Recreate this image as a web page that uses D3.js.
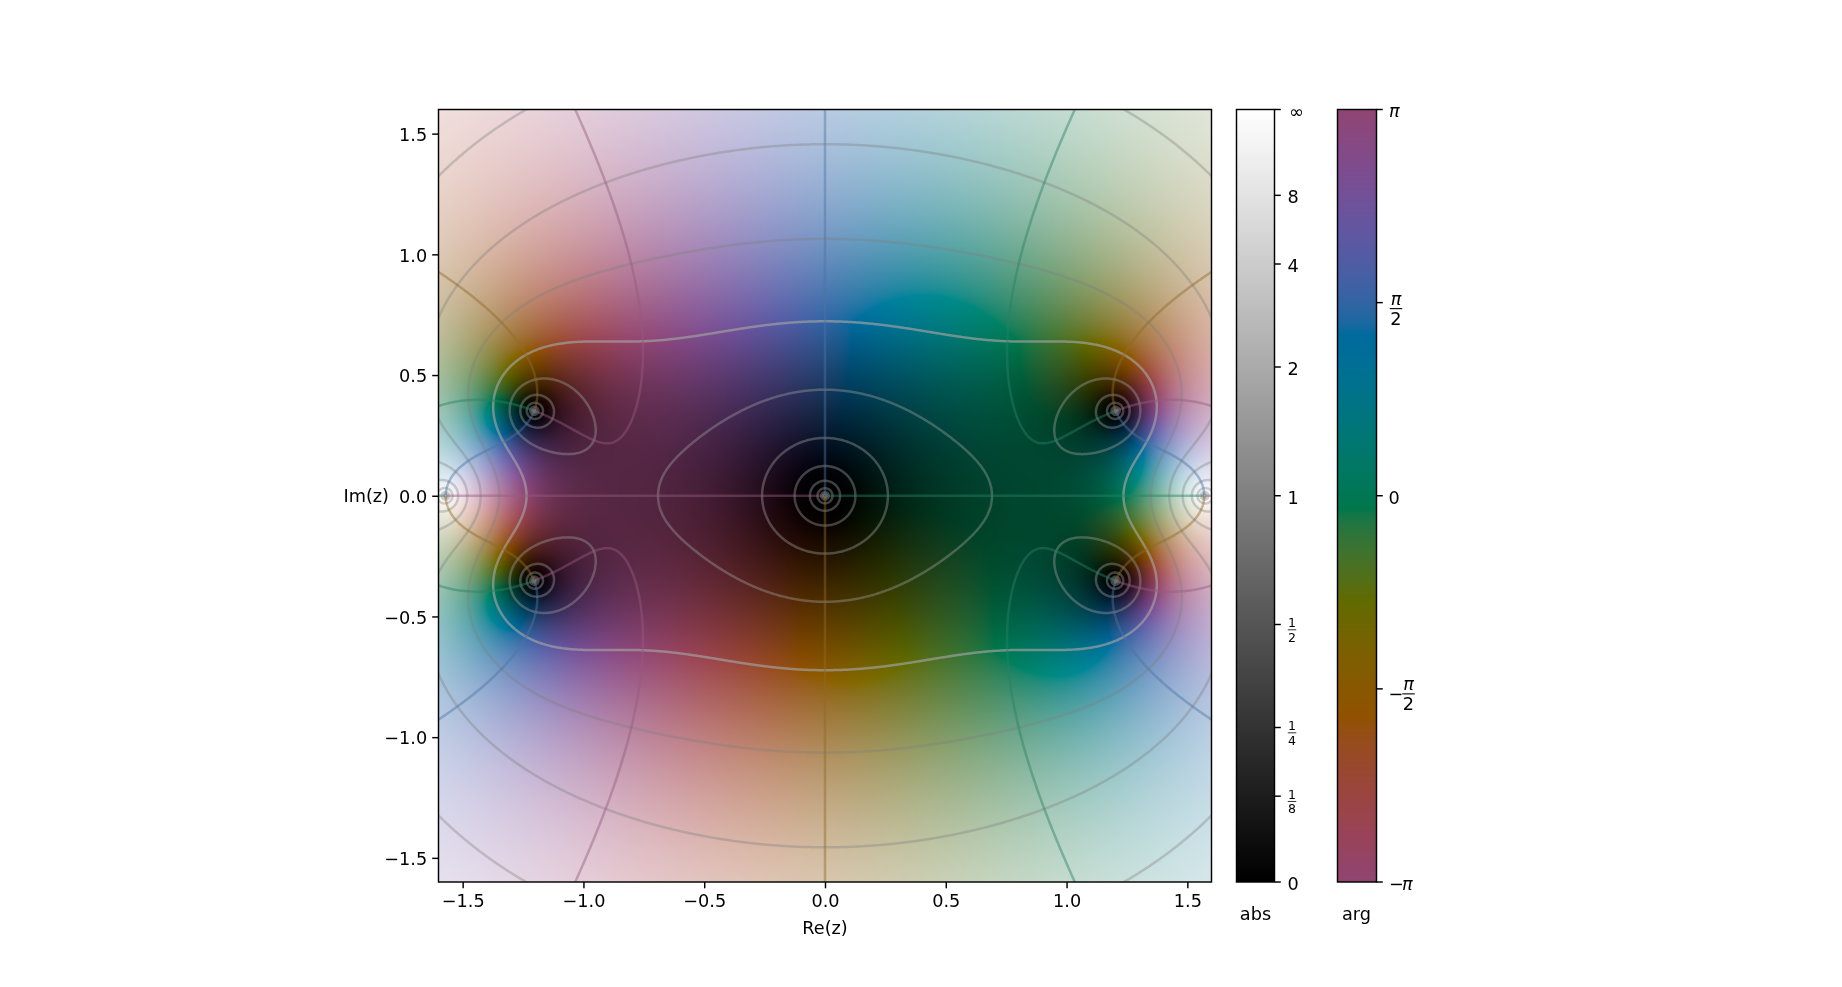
<!DOCTYPE html>
<html><head><meta charset="utf-8">
<script src="https://cdnjs.cloudflare.com/ajax/libs/d3/7.8.5/d3.min.js"></script>
<style>
html,body{margin:0;padding:0;background:#fff;width:1842px;height:987px;overflow:hidden}
#stage{position:relative;width:1842px;height:987px;filter:blur(0.35px)}
canvas,svg{position:absolute;left:0;top:0}
text{font-family:"DejaVu Sans";fill:#000}
</style></head><body><div id="stage"></div>
<script>
// Values: the field is modelled from its visible zeros and poles.
const zeroRe = [0, 1.204, 1.204, -1.204, -1.204];
const zeroIm = [0, 0.352, -0.352, 0.352, -0.352];
const poleRe = [1.57, -1.57];
const poleIm = [0, 0];
const gain = -1;
const absLevels = [-8,-7,-6,-5,-4,-3,-2,-1,0,1,2,3,4,5,6,7,8];
const argLevels = [0, Math.PI/2, Math.PI, -Math.PI/2];
const xTicks = [-1.5,-1,-0.5,0,0.5,1,1.5];
const yTicks = [-1.5,-1,-0.5,0,0.5,1,1.5];
const absTickValues = [0,1/8,1/4,1/2,1,2,4,8];
const absTickLabels = ["0",["1","8"],["1","4"],["1","2"],"1","2","4","8"];

const frame = {l:438.5, r:1211.5, t:109.5, b:882};
const absBar = {l:1236.5, r:1274.5};
const argBar = {l:1337.5, r:1376.5};
const x = d3.scaleLinear().domain([-1.6,1.6]).range([frame.l,frame.r]);
const y = d3.scaleLinear().domain([-1.6,1.6]).range([frame.b,frame.t]);
const absY = d3.scaleLinear().domain([0,1]).range([frame.b,frame.t]);
const argY = d3.scaleLinear().domain([-Math.PI,Math.PI]).range([frame.b,frame.t]);

function f(re,im){
  let a=gain,b=0;
  for(let i=0;i<zeroRe.length;i++){const u=re-zeroRe[i],v=im-zeroIm[i];const t=a*u-b*v;b=a*v+b*u;a=t;}
  for(let i=0;i<poleRe.length;i++){const u=re-poleRe[i],v=im-poleIm[i];const d=u*u+v*v;const t=(a*u+b*v)/d;b=(b*u-a*v)/d;a=t;}
  return [a,b];
}
const H0 = 165*Math.PI/180, C0 = 0.115;
function gam(c){c=Math.max(0,Math.min(1,c));return 255*(c<=0.0031308?12.92*c:1.055*Math.pow(c,1/2.4)-0.055);}
function color(r,theta,chroma=C0){
  const L=r;
  const C=chroma*(1-Math.abs(2*r-1));
  const h=H0+theta;
  const A=C*Math.cos(h),B=C*Math.sin(h);
  const l=L+0.3963377774*A+0.2158037573*B, m=L-0.1055613458*A-0.0638541728*B, s=L-0.0894841775*A-1.2914855480*B;
  const l3=l*l*l,m3=m*m*m,s3=s*s*s;
  return [gam(4.0767416621*l3-3.3077115913*m3+0.2309699292*s3),
          gam(-1.2684380046*l3+2.6097574011*m3-0.3413193965*s3),
          gam(-0.0041960863*l3-0.7034186147*m3+1.7076147010*s3)];
}
const stage=d3.select("#stage");
const canvas=stage.append("canvas").attr("width",1842).attr("height",987).node();
const ctx=canvas.getContext("2d");
const img=ctx.createImageData(1842,987);
function put(px,py,c){const i=4*(py*1842+px);img.data[i]=c[0];img.data[i+1]=c[1];img.data[i+2]=c[2];img.data[i+3]=255;}
for(let i=0;i<img.data.length;i+=4){img.data[i]=img.data[i+1]=img.data[i+2]=img.data[i+3]=255;}
for(let py=Math.floor(frame.t);py<Math.ceil(frame.b);py++){
  const im=y.invert(py+.5);
  for(let px=Math.floor(frame.l);px<Math.ceil(frame.r);px++){
    const [a,b]=f(x.invert(px+.5),im);
    const m=Math.hypot(a,b);
    put(px,py,color(m/(m+1),Math.atan2(b,a)));
  }
  const rr=absY.invert(py+.5);
  const g=[255*rr,255*rr,255*rr];
  for(let px=Math.floor(absBar.l);px<Math.ceil(absBar.r);px++)put(px,py,g);
  const ac=color(.5,argY.invert(py+.5));
  for(let px=Math.floor(argBar.l);px<Math.ceil(argBar.r);px++)put(px,py,ac);
}
ctx.putImageData(img,0,0);

const svg=stage.append("svg").attr("width",1842).attr("height",987);
svg.append("defs").append("clipPath").attr("id","plot").append("rect")
  .attr("x",frame.l).attr("y",frame.t).attr("width",frame.r-frame.l).attr("height",frame.b-frame.t);
// contours
const N=900, ext=1.7, step=2*ext/N;
const logs=new Float64Array(N*N), sinA=new Float64Array(N*N), cosA=new Float64Array(N*N);
for(let j=0;j<N;j++){const im=-ext+(j+.5)*step;for(let i=0;i<N;i++){
  const [a,b]=f(-ext+(i+.5)*step,im);const m=Math.hypot(a,b)||1e-12;
  logs[j*N+i]=Math.max(-14,Math.min(14,Math.log2(m)));sinA[j*N+i]=b/m;cosA[j*N+i]=a/m;}}
const toData=p=>[-ext+p[0]*step,-ext+p[1]*step];
const line=d3.line().x(p=>x(p[0])).y(p=>y(p[1]));
const G=svg.append("g").attr("clip-path","url(#plot)").attr("fill","none").attr("stroke-linejoin","round");
const cont=d3.contours().size([N,N]).smooth(true);
absLevels.forEach(k=>{
  const c=cont.thresholds([k])(logs)[0];
  c.coordinates.forEach(poly=>poly.forEach(ring=>{
    G.append("path").attr("d",line(ring.map(toData)))
      .attr("stroke",k>0?"#808080":"#a0a0a0").attr("stroke-width",2.5).attr("stroke-opacity",k===0?0.68:(k>0?0.36:0.4));
  }));
});
function argPieces(field,pick){
  const c=cont.thresholds([0])(field)[0];
  c.coordinates.forEach(poly=>poly.forEach(ring=>{
    let cur=[],lev=null;
    const flush=()=>{if(cur.length>1){const col=color(.5,lev).map(v=>Math.round(v*.75+160*.25));
      G.append("path").attr("d",line(cur)).attr("stroke",`rgb(${col.join(",")})`)
       .attr("stroke-width",2.5).attr("stroke-opacity",0.45);}cur=[];lev=null;};
    ring.map(toData).forEach(p=>{
      const [a,b]=f(p[0],p[1]);const l=pick(a,b);
      if(l===null){flush();return;}
      if(lev!==null&&l!==lev){flush();}
      lev=l;cur.push(p);
    });
    flush();
  }));
}
argPieces(sinA,(a,b)=>{const m=Math.hypot(a,b);return Math.abs(b/m)>0.35?null:(a>0?argLevels[0]:argLevels[2]);});
argPieces(cosA,(a,b)=>{const m=Math.hypot(a,b);return Math.abs(a/m)>0.35?null:(b>0?argLevels[1]:argLevels[3]);});

// axes
const fs=17.7, tl=6.3, lw=1.45;
const xa=d3.axisBottom(x).tickValues(xTicks).tickFormat(d3.format(".1f")).tickSize(tl).tickPadding(6.5);
const ya=d3.axisLeft(y).tickValues(yTicks).tickFormat(d3.format(".1f")).tickSize(tl).tickPadding(5);
function sty(g){g.selectAll(".domain").remove();g.selectAll("line").attr("stroke","#000").attr("stroke-width",lw);
  g.selectAll("text").attr("font-family","DejaVu Sans").attr("font-size",fs).attr("fill","#000");}
svg.append("g").attr("transform",`translate(0,${frame.b})`).call(xa).call(sty);
svg.append("g").attr("transform",`translate(${frame.l},0)`).call(ya).call(sty).selectAll("text").attr("dy","0.38em");
const rects=[[frame.l,frame.r],[absBar.l,absBar.r],[argBar.l,argBar.r]];
rects.forEach(([a,b])=>svg.append("rect").attr("x",a).attr("y",frame.t).attr("width",b-a).attr("height",frame.b-frame.t)
  .attr("fill","none").attr("stroke","#000").attr("stroke-width",lw));
const lab=(t,px,py,anchor="middle",size=fs,style="normal")=>svg.append("text").attr("x",px).attr("y",py).attr("text-anchor",anchor)
  .attr("font-size",size).attr("font-style",style).attr("dominant-baseline","central").text(t);
lab("Re(z)",825,928);
lab("Im(z)",389,496,"end");
lab("abs",1255.5,914);
lab("arg",1356.5,914);
function tick(bar,py){svg.append("line").attr("x1",bar.r).attr("x2",bar.r+tl).attr("y1",py).attr("y2",py).attr("stroke","#000").attr("stroke-width",lw);}
function frac(cx,py,num,den,size,w,dy,style){
  const barY=py+dy;
  svg.append("line").attr("x1",cx-w/2).attr("x2",cx+w/2).attr("y1",barY).attr("y2",barY).attr("stroke","#000").attr("stroke-width",size>15?1.1:.8);
  lab(num,cx,barY-size*.56,"middle",size,style);
  lab(den,cx,barY+size*.6,"middle",size);
}
absTickValues.forEach((v,i)=>{
  const py=absY(v/(v+1));tick(absBar,py);
  const t=absTickLabels[i];
  if(Array.isArray(t))frac(1292,py,t[0],t[1],12.5,8.5,5.3,"normal");
  else lab(t,1287.5,py+2,"start");
});
tick(absBar,absY(1));lab("∞",1289,111,"start",18);
const pi="π";
[[Math.PI,"top"],[Math.PI/2,"half"],[0,"zero"],[-Math.PI/2,"mhalf"],[-Math.PI,"bot"]].forEach(([v,k])=>{
  const py=argY(v);tick(argBar,py);
  if(k==="top")lab(pi,1389,111,"start",fs,"italic");
  if(k==="zero")lab("0",1388.5,py+2,"start");
  if(k==="bot"){lab("−",1389,py+2,"start");lab(pi,1402,py+2,"start",fs,"italic");}
  if(k==="half")frac(1396,py,pi,"2",fs,12.5,6,"italic");
  if(k==="mhalf"){lab("−",1388.5,py+5,"start");frac(1408.5,py,pi,"2",fs,12.5,5,"italic");}
});
</script></body></html>
